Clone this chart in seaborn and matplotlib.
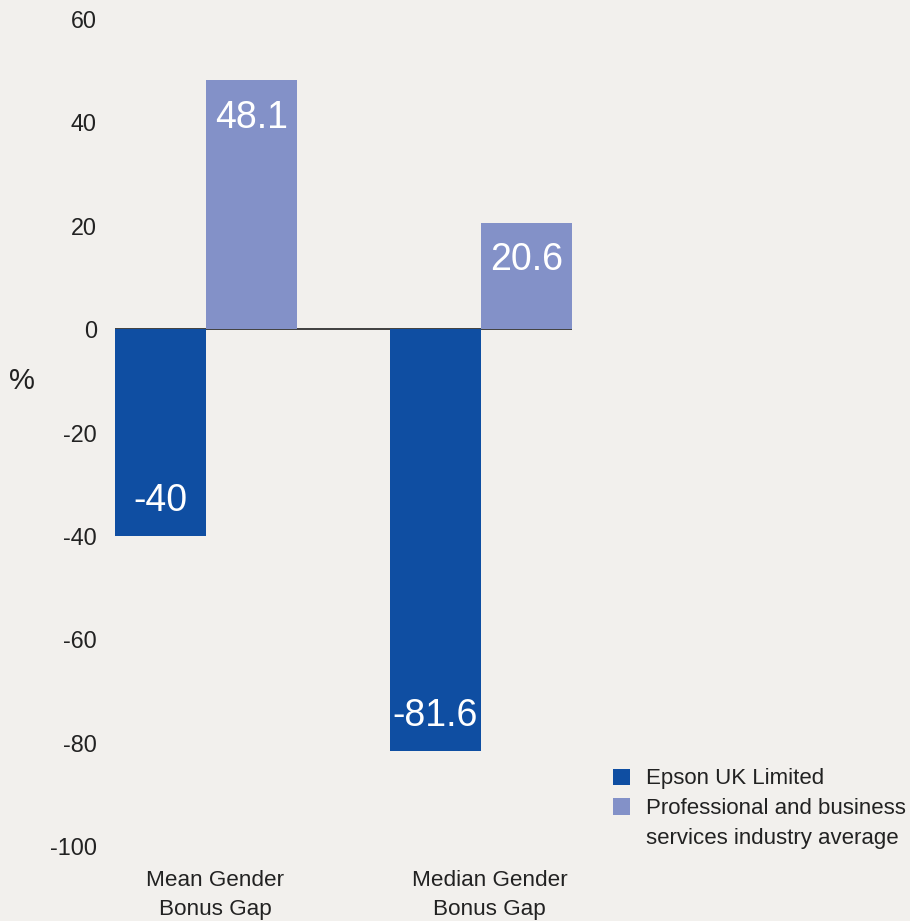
import matplotlib
matplotlib.use("Agg")
import matplotlib.pyplot as plt
import seaborn as sns
import pandas as pd
from matplotlib.patches import Patch
from matplotlib.transforms import ScaledTranslation

# data
categories = ["Mean Gender\nBonus Gap", "Median Gender\nBonus Gap"]
series_names = ["Epson UK Limited", "Professional and business\nservices industry average"]
epson_values = [-40, -81.6]
industry_values = [48.1, 20.6]
y_ticks = [-100, -80, -60, -40, -20, 0, 20, 40, 60]

bg = "#f2f0ed"
colors = ["#0f4ea2", "#8391c8"]
text_col = "#222222"

df = pd.DataFrame({
    "category": categories * 2,
    "series": [series_names[0]] * len(categories) + [series_names[1]] * len(categories),
    "value": epson_values + industry_values,
})

sns.set_theme(style="white")
plt.rcParams["font.family"] = ["Liberation Sans", "DejaVu Sans"]

fig = plt.figure(figsize=(9.1, 9.21), dpi=100, facecolor=bg)
ax = fig.add_axes([0.1264, 0.0814, 0.502, 0.898])
ax.set_facecolor(bg)

sns.barplot(data=df, x="category", y="value", hue="series", palette=colors,
            width=0.662, saturation=1, legend=False, linewidth=0, ax=ax, zorder=2)

ax.axhline(0, color="#222222", lw=1.2, zorder=1)

# value labels inside the bars
for cont in ax.containers:
    for bar in cont:
        v = bar.get_height()
        x = bar.get_x() + bar.get_width() / 2
        off = -27 if v > 0 else 25
        ax.annotate(f"{v:g}", (x, v), xytext=(0, off), textcoords="offset points",
                    ha="center", va="center", color="white", fontsize=27)

ax.set_xlim(-0.331, 1.331)
ax.set_ylim(-100, 60)
ax.set_yticks(y_ticks)
ax.set_yticklabels([str(t) for t in y_ticks])
ax.set_xlabel("")
ax.set_ylabel("")
for s in ax.spines.values():
    s.set_visible(False)
ax.tick_params(axis="y", length=0, pad=13, labelsize=16.8, labelcolor=text_col)
ax.tick_params(axis="x", length=0, pad=17.5, labelsize=16.2, labelcolor=text_col)
shift = ScaledTranslation(9 / 100, 0, fig.dpi_scale_trans)
for lab in ax.get_xticklabels():
    lab.set_linespacing(1.48)
    lab.set_transform(lab.get_transform() + shift)

fig.text(0.024, 1 - 381 / 921, "%", ha="center", va="center", fontsize=21, color=text_col)

# legend: second label wraps onto a second row, square sits on its first line
leg_labels = [series_names[0]] + series_names[1].split("\n")
handles = [Patch(facecolor=c, edgecolor="none") for c in colors]
handles.append(Patch(facecolor="none", edgecolor="none"))
leg = fig.legend(handles, leg_labels, loc="upper left", bbox_to_anchor=(613 / 910, 0.1656),
                 frameon=False, fontsize=16, borderpad=0, borderaxespad=0,
                 handlelength=0.75, handleheight=0.75, handletextpad=0.75,
                 labelspacing=0.4)
for t in leg.get_texts():
    t.set_color(text_col)

fig.savefig("out.png", dpi=100, facecolor=bg)
